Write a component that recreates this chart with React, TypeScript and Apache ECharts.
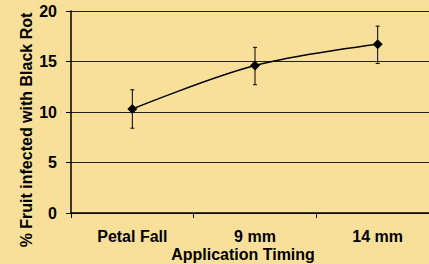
import React, { useEffect, useRef } from "react";
import * as echarts from "echarts";

const categories = ["Petal Fall", "9 mm", "14 mm"];
const meanValues = [10.3, 14.6, 16.7];
const errorLow = [8.4, 12.7, 14.8];
const errorHigh = [12.2, 16.4, 18.5];
const yTicks = [0, 5, 10, 15, 20];

const FONT = "'Liberation Sans', Arial, sans-serif";
const BG = "#F8E09B";

export default function App() {
  const ref = useRef<HTMLDivElement>(null);
  useEffect(() => {
    if (!ref.current) return;
    const chart = echarts.init(ref.current, undefined, { renderer: "svg" });
    const errData = categories.map((_, i) => [i, errorLow[i], errorHigh[i]]);
    chart.setOption({
      animation: false,
      backgroundColor: BG,
      grid: {
        left: 71,
        top: 11,
        height: 202,
        width: 368,
        containLabel: false,
        outerBoundsMode: "none",
      },
      xAxis: {
        type: "category",
        data: categories,
        boundaryGap: true,
        axisLine: { show: true, lineStyle: { color: "#000", width: 1.5 } },
        axisTick: { show: true, length: 5, inside: false, lineStyle: { color: "#000", width: 1 } },
        axisLabel: {
          margin: 15,
          color: "#000",
          fontSize: 16,
          fontWeight: "bold",
          fontFamily: FONT,
        },
        splitLine: { show: false },
      },
      yAxis: {
        type: "value",
        min: yTicks[0],
        max: yTicks[yTicks.length - 1],
        interval: 5,
        axisLine: { show: true, lineStyle: { color: "#000", width: 1.5 } },
        axisTick: { show: true, length: 5, lineStyle: { color: "#000", width: 1 } },
        axisLabel: {
          margin: 14,
          color: "#000",
          fontSize: 16,
          fontWeight: "bold",
          fontFamily: FONT,
        },
        splitLine: { show: true, lineStyle: { color: "#222", width: 1 } },
      },
      graphic: [
        {
          type: "text",
          x: 26,
          y: 130,
          rotation: Math.PI / 2,
          style: {
            text: "% Fruit infected with Black Rot",
            fill: "#000",
            font: `bold 16px ${FONT}`,
            align: "center",
            verticalAlign: "middle",
          },
        },
        {
          type: "text",
          x: 243,
          y: 254,
          style: {
            text: "Application Timing",
            fill: "#000",
            font: `bold 16px ${FONT}`,
            align: "center",
            verticalAlign: "middle",
          },
        },
      ],
      series: [
        {
          type: "custom",
          data: errData,
          z: 3,
          clip: false,
          renderItem: (params: any, api: any) => {
            const x = api.value(0);
            const lo = api.coord([x, api.value(1)]);
            const hi = api.coord([x, api.value(2)]);
            const hw = 2;
            const style = { stroke: "#000", lineWidth: 1 };
            return {
              type: "group",
              children: [
                { type: "line", shape: { x1: lo[0], y1: lo[1], x2: hi[0], y2: hi[1] }, style },
                { type: "line", shape: { x1: lo[0] - hw, y1: lo[1], x2: lo[0] + hw, y2: lo[1] }, style },
                { type: "line", shape: { x1: hi[0] - hw, y1: hi[1], x2: hi[0] + hw, y2: hi[1] }, style },
              ],
            };
          },
        },
        {
          type: "line",
          data: meanValues,
          smooth: 0.35,
          symbol: "diamond",
          symbolSize: 10,
          z: 4,
          lineStyle: { color: "#000", width: 1.5 },
          itemStyle: { color: "#000" },
        },
      ],
    });
    return () => chart.dispose();
  }, []);
  return (
    <div
      ref={ref}
      style={{ position: "fixed", left: 0, top: 0, width: 429, height: 264 }}
    />
  );
}
